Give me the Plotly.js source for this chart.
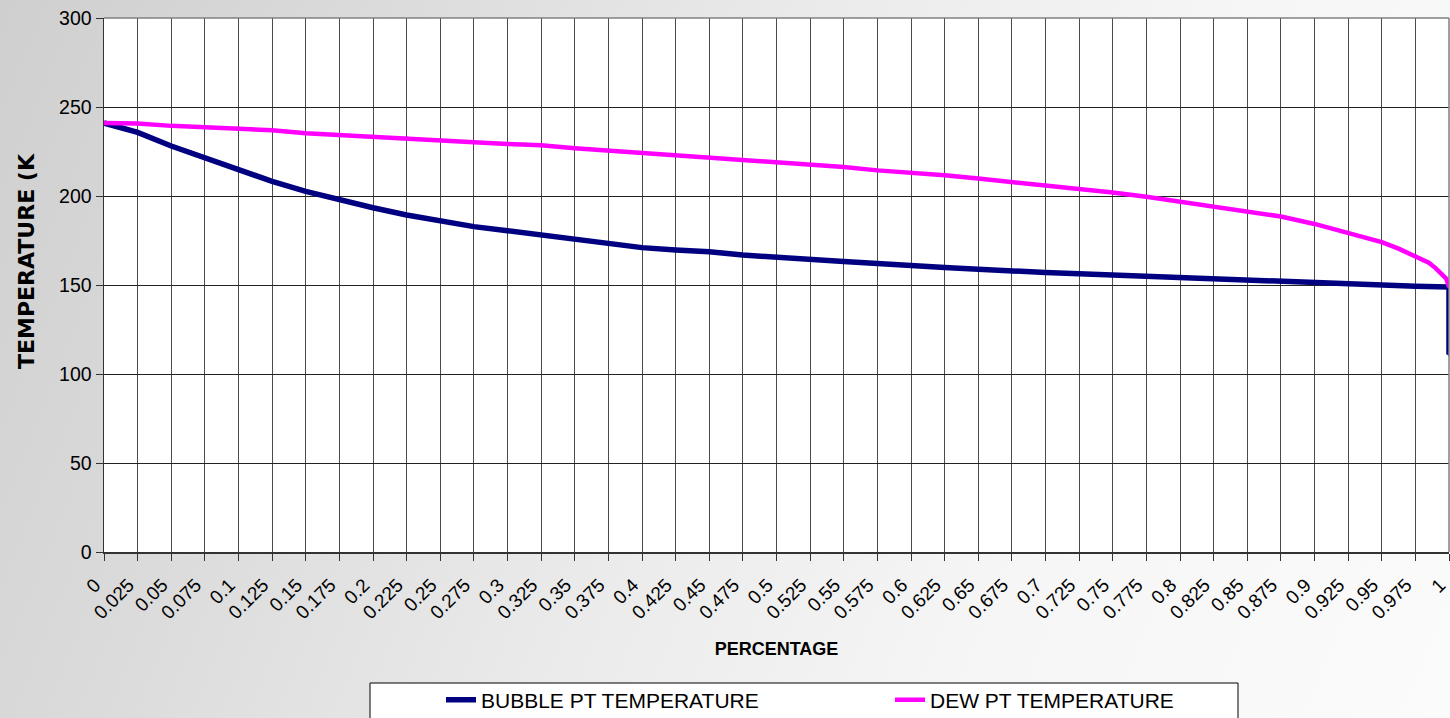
<!DOCTYPE html>
<html>
<head>
<meta charset="utf-8">
<script src="https://cdn.plot.ly/plotly-3.0.1.min.js"></script>
<style>
  html, body { margin: 0; padding: 0; }
  body {
    width: 1450px; height: 718px; overflow: hidden;
    background: linear-gradient(112deg, #cfcfcf 0%, #dbdbdb 22%, #ebebeb 48%, #f6f6f6 72%, #fbfbfb 100%);
  }
  #chart { width: 1450px; height: 718px; }
</style>
</head>
<body>
<div id="chart"></div>
<script>
// ---- data ----
const tickValues = [0, 0.025, 0.05, 0.075, 0.1, 0.125, 0.15, 0.175, 0.2, 0.225, 0.25, 0.275, 0.3, 0.325, 0.35, 0.375, 0.4, 0.425, 0.45, 0.475, 0.5, 0.525, 0.55, 0.575, 0.6, 0.625, 0.65, 0.675, 0.7, 0.725, 0.75, 0.775, 0.8, 0.825, 0.85, 0.875, 0.9, 0.925, 0.95, 0.975, 1];
const tickLabels = ["0", "0.025", "0.05", "0.075", "0.1", "0.125", "0.15", "0.175", "0.2", "0.225", "0.25", "0.275", "0.3", "0.325", "0.35", "0.375", "0.4", "0.425", "0.45", "0.475", "0.5", "0.525", "0.55", "0.575", "0.6", "0.625", "0.65", "0.675", "0.7", "0.725", "0.75", "0.775", "0.8", "0.825", "0.85", "0.875", "0.9", "0.925", "0.95", "0.975", "1"];

const bubblePct = [0, 0.025, 0.05, 0.075, 0.1, 0.125, 0.15, 0.175, 0.2, 0.225, 0.25, 0.275, 0.3, 0.325, 0.35, 0.375, 0.4, 0.425, 0.45, 0.475, 0.5, 0.525, 0.55, 0.575, 0.6, 0.625, 0.65, 0.675, 0.7, 0.725, 0.75, 0.775, 0.8, 0.825, 0.85, 0.875, 0.9, 0.925, 0.95, 0.975, 1, 1];
const bubbleTemp = [241, 235.7, 228.1, 221.5, 214.8, 208.2, 202.6, 197.8, 193.4, 189.3, 186, 182.8, 180.5, 178.1, 175.7, 172.9, 171, 169.7, 168.7, 166.8, 165.4, 164.1, 163.2, 162.1, 160.7, 159.8, 158.9, 157.6, 157, 156.3, 155.6, 154.8, 154.3, 153.7, 152.9, 151.8, 150.9, 150.6, 150, 149.3, 148.9, 111];

const dewPct = [0, 0.025, 0.05, 0.075, 0.1, 0.125, 0.15, 0.175, 0.2, 0.225, 0.25, 0.275, 0.3, 0.325, 0.35, 0.375, 0.4, 0.425, 0.45, 0.475, 0.5, 0.525, 0.55, 0.575, 0.6, 0.625, 0.65, 0.675, 0.7, 0.725, 0.75, 0.775, 0.8, 0.825, 0.85, 0.875, 0.9, 0.925, 0.95, 0.9625, 0.975, 0.985, 0.99, 0.995, 0.998, 1];
const dewTemp = [241, 240.7, 239.4, 238.6, 238, 236.9, 235.2, 234.3, 233.5, 232.6, 231.5, 230.2, 229.2, 228.5, 226.8, 225.5, 224.5, 223, 221.8, 220.4, 218.7, 217.8, 216.3, 214.4, 213.3, 211.7, 209.8, 207.9, 206.1, 204.1, 202, 199.6, 196.8, 194.1, 191.3, 188.5, 184.3, 179.3, 174.1, 170.4, 166.3, 162.5, 159.5, 156, 153.5, 149];

const seriesNames = ["BUBBLE PT TEMPERATURE", "DEW PT TEMPERATURE"];
const xTitle = "PERCENTAGE";
const yTitle = "TEMPERATURE (K";

// ---- chart ----
const FONT = "Liberation Sans, Arial, sans-serif";

const traces = [
  {
    x: bubblePct, y: bubbleTemp, name: seriesNames[0],
    type: "scatter", mode: "lines+markers",
    line: { color: "#000080", width: 5.5 },
    marker: { color: "#000080", size: 3, symbol: "diamond" },
    legendwidth: 404
  },
  {
    x: dewPct, y: dewTemp, name: seriesNames[1],
    type: "scatter", mode: "lines+markers",
    line: { color: "#ff00ff", width: 4.5 },
    marker: { color: "#ff00ff", size: 3, symbol: "square" },
    legendwidth: 260
  }
];

const PL = 104, PR = 1449, PT = 18, PB = 552;
const px2x = p => (p - PL) / (PR - PL);
const px2y = p => (PB - p) / (PB - PT);

const layout = {
  width: 1450, height: 718,
  margin: { l: PL, r: 1450 - PR, t: PT, b: 718 - PB, pad: 0, autoexpand: false },
  paper_bgcolor: "rgba(0,0,0,0)",
  plot_bgcolor: "#ffffff",
  font: { family: FONT, color: "#000000", size: 18 },
  showlegend: true,
  xaxis: {
    range: [0, 1],
    tickmode: "array", tickvals: tickValues, ticktext: tickLabels,
    tickangle: -45,
    ticks: "outside", ticklen: 7, tickcolor: "#333333", tickwidth: 1,
    ticklabelstandoff: 6,
    ticklabelshift: -9,
    ticklabeloverflow: "allow",
    showgrid: true, gridcolor: "#4a4a4a", gridwidth: 1,
    showline: true, linecolor: "#333333", linewidth: 1.5,
    zeroline: false,
    tickfont: { family: FONT, size: 19, color: "#000" },
    title: { text: xTitle, font: { family: FONT, size: 18, weight: "bold", color: "#000" }, standoff: 20 },
    automargin: false
  },
  yaxis: {
    range: [0, 300], dtick: 50, tick0: 0,
    ticks: "outside", ticklen: 7, tickcolor: "#333333", tickwidth: 1,
    showgrid: true, gridcolor: "#222222", gridwidth: 1,
    showline: true, linecolor: "#333333", linewidth: 1.5,
    zeroline: false,
    tickfont: { family: FONT, size: 19.5, color: "#000" },
    automargin: false
  },
  legend: {
    orientation: "h",
    x: px2x(441), xanchor: "left",
    y: px2y(700), yanchor: "middle",
    bgcolor: "rgba(0,0,0,0)", borderwidth: 0,
    font: { family: FONT, size: 21, color: "#000" }
  },
  shapes: [
    { type: "rect", xref: "paper", yref: "paper", layer: "below",
      x0: px2x(370), x1: px2x(1238), y0: px2y(683), y1: px2y(730),
      fillcolor: "#ffffff", line: { color: "#000000", width: 1 } },
    { type: "line", xref: "paper", yref: "paper", layer: "above",
      x0: 0, x1: 1, y0: 1, y1: 1, line: { color: "#808080", width: 1.5 } },
    { type: "line", xref: "paper", yref: "paper", layer: "above",
      x0: 1, x1: 1, y0: 0, y1: 1, line: { color: "#808080", width: 1.5 } }
  ],
  annotations: [
    { text: yTitle, xref: "paper", yref: "paper",
      x: px2x(26), y: px2y(261), xanchor: "center", yanchor: "middle",
      textangle: -90, showarrow: false,
      font: { family: "DejaVu Sans, sans-serif", size: 22, weight: "bold", color: "#000" } }
  ]
};

Plotly.newPlot("chart", traces, layout, { displayModeBar: false, staticPlot: true });
</script>
</body>
</html>
